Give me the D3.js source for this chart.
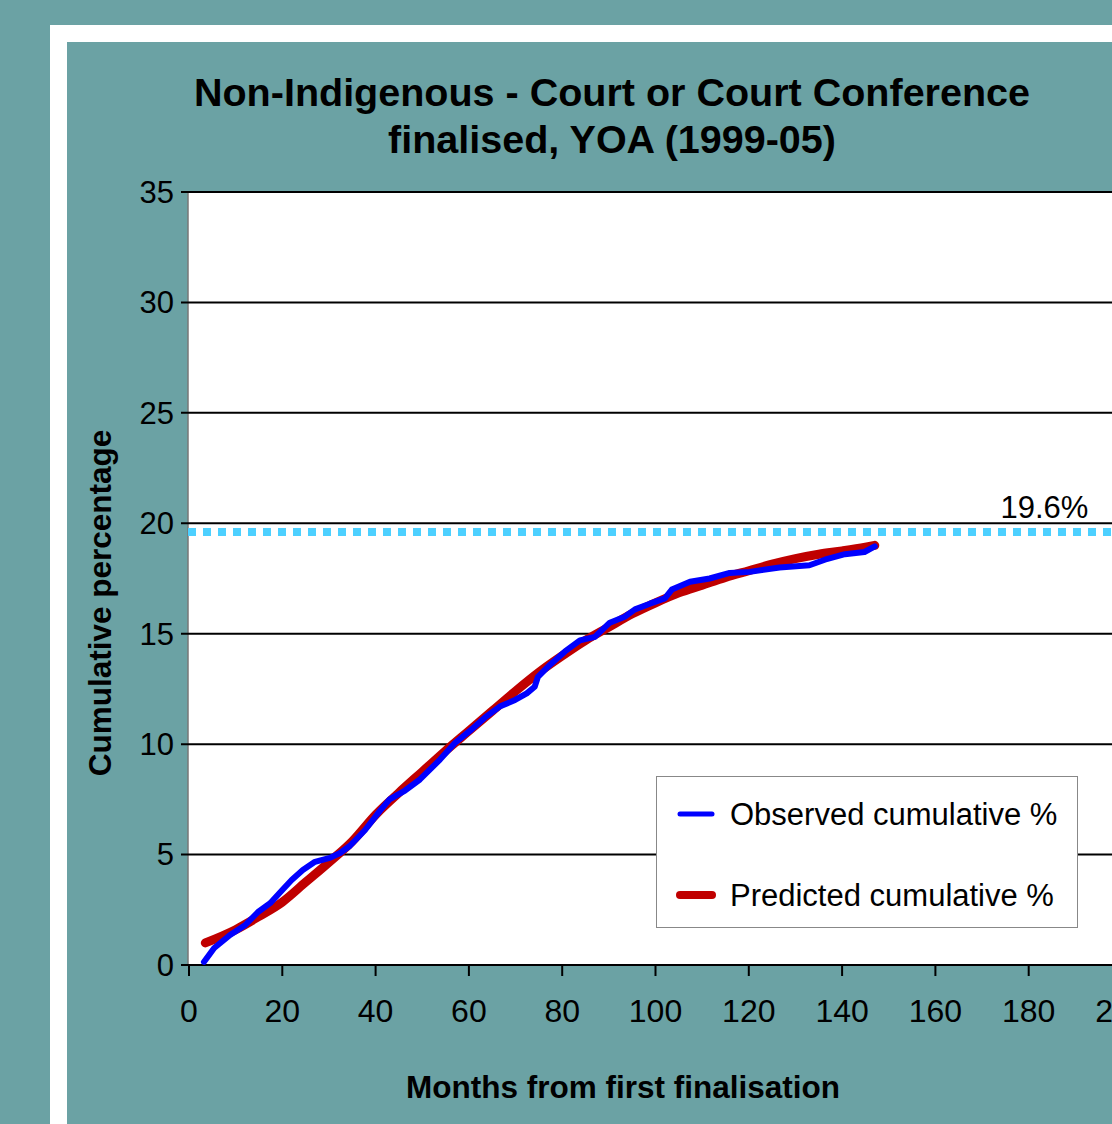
<!DOCTYPE html>
<html>
<head>
  <style>
    body, html { margin: 0; padding: 0; background: #6ba2a4; }
    svg { display: block; }
    text { font-family: "Liberation Sans", Arial, sans-serif; }
  </style>
</head>
<body>
  <svg id="svg" width="1112" height="1124"></svg>
  <script src="https://d3js.org/d3.v7.min.js"></script>
  <script>
    // observed cumulative % (month, value)
    const observedMonths = [3.2, 5.4, 8.8, 12, 14.8, 17.4, 20, 22, 24.4, 27, 30.2, 32.4, 34.5, 37.7, 41, 43, 46.3, 49.5, 53.8, 57, 60.2, 63.4, 66.6, 69.9, 72.4, 74.1, 74.8, 77.4, 80.6, 83.8, 87, 90.2, 93.4, 95.6, 98.8, 102, 103.5, 107.4, 111.6, 115.9, 120.2, 126.6, 133, 136.3, 140.6, 144.8, 147]
    const observedValues = [0.14, 0.77, 1.36, 1.8, 2.4, 2.8, 3.4, 3.85, 4.3, 4.67, 4.85, 5.07, 5.4, 6.1, 7.0, 7.5, 7.9, 8.4, 9.3, 10.05, 10.6, 11.2, 11.7, 12.0, 12.3, 12.6, 13.05, 13.6, 14.2, 14.7, 14.86, 15.5, 15.77, 16.1, 16.36, 16.6, 17.0, 17.35, 17.5, 17.75, 17.8, 18.0, 18.1, 18.35, 18.6, 18.7, 18.95]

    // predicted cumulative %
    const predictedMonths = [3.5, 10, 15, 20, 25, 30, 35, 40, 45, 50, 55, 60, 65, 70, 75, 80, 85, 90, 95, 100, 105, 110, 115, 120, 125, 130, 135, 140, 145, 147]
    const predictedValues = [1.0, 1.6, 2.2, 2.85, 3.75, 4.65, 5.6, 6.8, 7.8, 8.75, 9.7, 10.6, 11.5, 12.4, 13.25, 14.0, 14.7, 15.3, 15.9, 16.4, 16.85, 17.2, 17.55, 17.85, 18.15, 18.4, 18.6, 18.75, 18.92, 19.0]

    const xTicks = [0, 20, 40, 60, 80, 100, 120, 140, 160, 180, 200]
    const yTicks = [0, 5, 10, 15, 20, 25, 30, 35]
    const asymptote = 19.6
    const asymptoteLabel = "19.6%"
    const titleLines = ["Non-Indigenous - Court or Court Conference", "finalised, YOA (1999-05)"]
    const seriesNames = ["Observed cumulative %", "Predicted cumulative %"]

    const observed = observedMonths.map((m, i) => ({ m, v: observedValues[i] }))
    const predicted = predictedMonths.map((m, i) => ({ m, v: predictedValues[i] }))

    const svg = d3.select("#svg")

    // white frame
    svg.append("rect")
      .attr("x", 58.5).attr("y", 33.5)
      .attr("width", 1200).attr("height", 1200)
      .attr("fill", "none").attr("stroke", "#fff").attr("stroke-width", 17)

    const xScale = d3.scaleLinear().domain([0, 200]).range([189, 1122])
    const yScale = d3.scaleLinear().domain([0, 35]).range([965, 192])

    // plot area
    svg.append("rect")
      .attr("x", 188).attr("y", yScale(35))
      .attr("width", 1000).attr("height", yScale(0) - yScale(35))
      .attr("fill", "#fff")

    svg.append("line")
      .attr("x1", 188).attr("x2", 188)
      .attr("y1", yScale(35)).attr("y2", yScale(0))
      .attr("stroke", "#777").attr("stroke-width", 1.5)

    // gridlines
    svg.append("g").selectAll("line").data(yTicks).join("line")
      .attr("x1", 181).attr("x2", 1112)
      .attr("y1", d => yScale(d)).attr("y2", d => yScale(d))
      .attr("stroke", "#000").attr("stroke-width", 2)

    // y labels
    svg.append("g").selectAll("text").data(yTicks).join("text")
      .attr("x", 174).attr("y", d => yScale(d))
      .attr("dy", "0.35em")
      .attr("text-anchor", "end")
      .attr("font-size", 31)
      .text(d => d)

    // x ticks + labels
    svg.append("g").selectAll("line").data(xTicks).join("line")
      .attr("x1", d => xScale(d)).attr("x2", d => xScale(d))
      .attr("y1", yScale(0)).attr("y2", yScale(0) + 11)
      .attr("stroke", "#000").attr("stroke-width", 2)

    svg.append("g").selectAll("text").data(xTicks).join("text")
      .attr("x", d => xScale(d)).attr("y", 1022)
      .attr("text-anchor", "middle")
      .attr("font-size", 32)
      .text(d => d)

    // asymptote
    svg.append("line")
      .attr("x1", 188).attr("x2", 1112)
      .attr("y1", yScale(asymptote)).attr("y2", yScale(asymptote))
      .attr("stroke", "#4dd0ff").attr("stroke-width", 8)
      .attr("stroke-dasharray", "8,7")

    svg.append("text")
      .attr("x", xScale(192.8)).attr("y", yScale(asymptote) - 14)
      .attr("text-anchor", "end")
      .attr("font-size", 31)
      .text(asymptoteLabel)

    const line = d3.line()
      .x(d => xScale(d.m))
      .y(d => yScale(d.v))

    svg.append("path")
      .attr("d", line.curve(d3.curveMonotoneX)(predicted))
      .attr("fill", "none").attr("stroke", "#c00000")
      .attr("stroke-width", 9).attr("stroke-linecap", "round").attr("stroke-linejoin", "round")

    svg.append("path")
      .attr("d", line.curve(d3.curveLinear)(observed))
      .attr("fill", "none").attr("stroke", "#0000ff")
      .attr("stroke-width", 6).attr("stroke-linecap", "round").attr("stroke-linejoin", "round")

    // title
    svg.append("g").selectAll("text").data(titleLines).join("text")
      .attr("x", 612).attr("y", (d, i) => 106 + i * 47)
      .attr("text-anchor", "middle")
      .attr("font-size", 39.5).attr("font-weight", "bold")
      .text(d => d)

    // axis titles
    svg.append("text")
      .attr("x", 623).attr("y", 1098)
      .attr("text-anchor", "middle")
      .attr("font-size", 31.5).attr("font-weight", "bold")
      .text("Months from first finalisation")

    svg.append("text")
      .attr("transform", "translate(111,603) rotate(-90)")
      .attr("text-anchor", "middle")
      .attr("font-size", 31.5).attr("font-weight", "bold")
      .text("Cumulative percentage")

    // legend
    const legend = svg.append("g").attr("transform", "translate(656,776)")
    legend.append("rect")
      .attr("x", 0.5).attr("y", 0.5).attr("width", 421).attr("height", 151)
      .attr("fill", "#fff").attr("stroke", "#888").attr("stroke-width", 1)
    const legendColors = ["#0000ff", "#c00000"]
    const legendWidths = [5, 8]
    seriesNames.forEach((name, i) => {
      const yy = 38 + i * 81
      legend.append("line")
        .attr("x1", 24).attr("x2", 56).attr("y1", yy).attr("y2", yy)
        .attr("stroke", legendColors[i]).attr("stroke-width", legendWidths[i])
        .attr("stroke-linecap", "round")
      legend.append("text")
        .attr("x", 74).attr("y", yy).attr("dy", "0.35em")
        .attr("font-size", 31)
        .text(name)
    })
  </script>
</body>
</html>
